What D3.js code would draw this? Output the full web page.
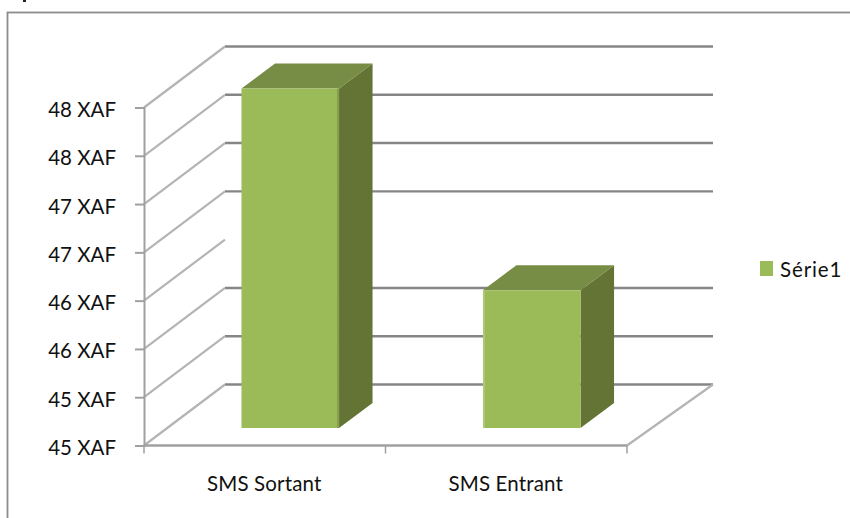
<!DOCTYPE html>
<html><head><meta charset="utf-8">
<style>html,body{margin:0;padding:0;background:#fff;overflow:hidden}svg{display:block}text{font-family:Lato,"Open Sans",sans-serif;fill:#111}</style>
<script src="https://cdn.jsdelivr.net/npm/d3@7/dist/d3.min.js"></script>
</head><body><svg id="c" width="850" height="518"></svg>
<script>
const categories = ["SMS Sortant", "SMS Entrant"];
const seriesName = "Série1";
const seriesValues = [48, 45.92];
const tickValues = [44.5, 45, 45.5, 46, 46.5, 47, 47.5, 48];
const tickLabels = ["45 XAF","45 XAF","46 XAF","46 XAF","47 XAF","47 XAF","48 XAF","48 XAF"];
const hiddenBackLines = [46];

const svg = d3.select("#c");
const front = {x0:144, x1:627, y0:445.5, y1:107.5};
const depth = {dx:81, dy:-61};
const barDepth = {start:0.28, end:0.69};
const y = d3.scaleLinear().domain([44.5,48]).range([front.y0, front.y1]);
const x = d3.scaleBand().domain(categories).range([front.x0, front.x1]).paddingInner(0).paddingOuter(0);
const gridCol = "#868686", axisCol = "#a0a0a0", wallCol = "#b4b4b4";
const fontSize = 20.5;

svg.append("rect").attr("x",23).attr("y",0).attr("width",3).attr("height",2).attr("fill","#222");
svg.append("rect").attr("x",7.5).attr("y",12.5).attr("width",850).attr("height",600)
  .attr("fill","#fff").attr("stroke","#8c8c8c").attr("stroke-width",1.8);

// back wall gridlines
svg.append("g").selectAll("line").data(tickValues.filter(t=>!hiddenBackLines.includes(t))).join("line")
  .attr("x1",front.x0+depth.dx).attr("x2",front.x1+depth.dx+5)
  .attr("y1",d=>y(d)+depth.dy).attr("y2",d=>y(d)+depth.dy)
  .attr("stroke",gridCol).attr("stroke-width",2.4);

// side wall gridlines
svg.append("g").selectAll("line").data(tickValues).join("line")
  .attr("x1",front.x0).attr("x2",front.x0+depth.dx)
  .attr("y1",d=>y(d)).attr("y2",d=>y(d)+depth.dy)
  .attr("stroke",wallCol).attr("stroke-width",2.2);
// floor right diagonal
svg.append("line").attr("x1",front.x1).attr("y1",front.y0).attr("x2",front.x1+depth.dx+5).attr("y2",front.y0+depth.dy)
  .attr("stroke",wallCol).attr("stroke-width",2.2);

// axes
const yAxis = d3.axisLeft(y).tickValues(tickValues).tickSize(9).tickPadding(19).tickFormat((d,i)=>tickLabels[i]);
const ya = svg.append("g").attr("transform",`translate(${front.x0},0)`).call(yAxis);
ya.selectAll("text").attr("font-size",fontSize).attr("font-family",null).style("fill","#111").attr("dy","0.44em");
ya.selectAll("path,line").attr("stroke",axisCol).attr("stroke-width",2);

const xTicks = [front.x0, ...categories.map(c=>x(c)+x.bandwidth())];
svg.append("line").attr("x1",front.x0).attr("x2",front.x1).attr("y1",front.y0).attr("y2",front.y0)
  .attr("stroke",axisCol).attr("stroke-width",2.4);
svg.append("g").selectAll("line").data(xTicks).join("line")
  .attr("x1",d=>d).attr("x2",d=>d).attr("y1",front.y0).attr("y2",front.y0+8)
  .attr("stroke",axisCol).attr("stroke-width",1.5);
svg.append("g").selectAll("text").data(categories).join("text")
  .attr("x",d=>x(d)+x.bandwidth()/2-0.5).attr("y",490.5).attr("text-anchor","middle").attr("font-size",fontSize).attr("letter-spacing",0.15).text(d=>d);

// bars
const barW = x.bandwidth()*0.404;
const barShift = 25.5;
const by = d3.scaleLinear().domain([44.5,48]).range([428,88.5]);
const ox = depth.dx*(barDepth.end-barDepth.start)+0.3, oy = depth.dy*(barDepth.end-barDepth.start);
const bars = svg.append("g").selectAll("g").data(categories.map((c,i)=>({c,v:seriesValues[i],i}))).join("g")
  .attr("transform",d=>`translate(${x(d.c)+(x.bandwidth()-barW)/2+barShift},0)`);
bars.append("path").attr("fill","#647434")
  .attr("d",d=>d3.line()([[barW,by(d.v)],[barW+ox,by(d.v)+oy],[barW+ox,by(44.5)+oy],[barW,by(44.5)]])+"Z");
bars.append("path").attr("fill","#778c44")
  .attr("d",d=>d3.line()([[0,by(d.v)],[ox,by(d.v)+oy],[barW+ox,by(d.v)+oy],[barW,by(d.v)]])+"Z");
bars.append("rect").attr("fill","#9bbb59").attr("x",0).attr("width",barW)
  .attr("y",d=>by(d.v)).attr("height",d=>by(44.5)-by(d.v));
bars.filter(d=>d.i===0).append("rect").attr("fill","#86a04c").attr("x",barW-2).attr("width",2)
  .attr("y",d=>by(d.v)).attr("height",d=>by(44.5)-by(d.v));
bars.filter(d=>d.i===1).append("rect").attr("fill","#adc877").attr("x",0).attr("width",2)
  .attr("y",d=>by(d.v)).attr("height",d=>by(44.5)-by(d.v));

// legend
const lg = svg.append("g");
lg.append("rect").attr("x",760).attr("y",261).attr("width",13).attr("height",15).attr("fill","#9bbb59");
lg.append("text").attr("x",780).attr("y",276.5).attr("font-size",fontSize).attr("letter-spacing",0.9).text(seriesName);
</script></body></html>
